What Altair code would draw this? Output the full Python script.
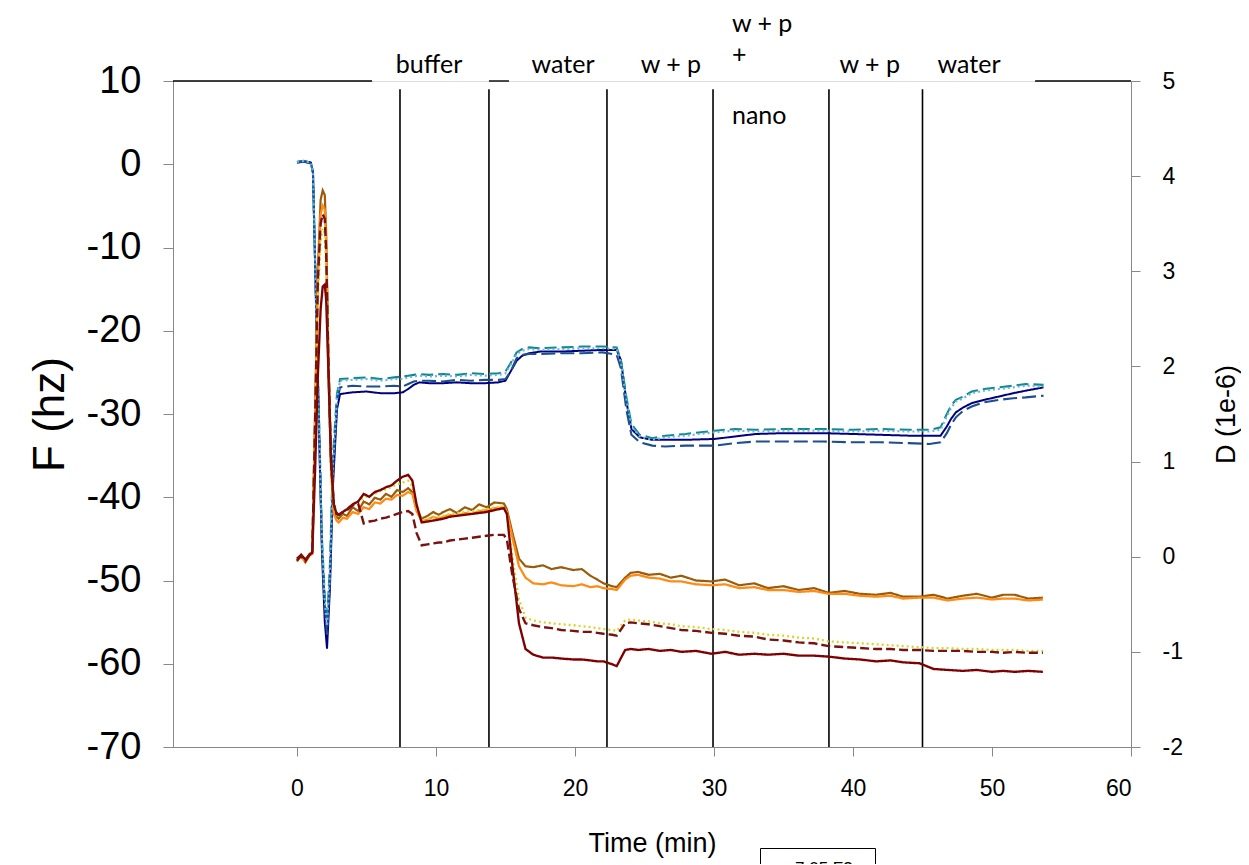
import altair as alt
import pandas as pd

# ---------------- data ----------------
# Frequency group (left axis, F in Hz)
TF = [0, 0.5, 1.0, 1.15, 1.44, 1.8, 2.0, 2.16, 2.37, 2.59, 2.88, 3.1, 4.0, 5.0, 6.0, 7.0, 7.6, 8.0, 8.4, 8.8,
      9.5, 10.5, 11.5, 12.5, 13.5, 14.5, 15.0, 15.4, 15.8, 16.2, 16.7, 17.5, 19.0, 20.5, 22.0, 23.0, 23.3, 23.7,
      24.06, 24.66, 25.56, 26.5, 27.95, 30.04, 31.5, 33.02, 35.0, 37.8, 40.0, 42.0, 44.0, 45.5, 46.3, 46.75,
      47.05, 47.4, 47.94, 48.54, 49.44, 50.5, 51.53, 52.42, 53.71]
F_NAVY = [0.3, 0.4, 0.2, -1, -22, -46.8, -55, -58.2, -50.9, -38.5, -29.4, -27.6, -27.4, -27.3, -27.5, -27.5,
          -27.4, -27.0, -26.5, -26.2, -26.3, -26.3, -26.2, -26.3, -26.3, -26.2, -26.0, -24.8, -23.6, -23.0,
          -22.7, -22.5, -22.5, -22.4, -22.3, -22.3, -23.5, -28.5, -31.8, -32.8, -33.1, -33.1, -33.1, -33.0,
          -32.7, -32.4, -32.3, -32.3, -32.4, -32.5, -32.6, -32.6, -32.6, -31.5, -30.6, -29.8, -29.2, -28.7,
          -28.3, -27.9, -27.5, -27.2, -26.8]
F_TEAL = [0.2, 0.4, 0.1, -1, -21, -45, -52, -55.0, -48, -35, -27.5, -25.8, -25.7, -25.6, -25.8, -25.6, -25.5,
          -25.4, -25.3, -25.2, -25.3, -25.2, -25.3, -25.1, -25.2, -25.1, -24.9, -23.8, -22.6, -22.2, -22.0,
          -22.1, -22.0, -21.9, -21.9, -22.0, -23.5, -28.0, -31.2, -32.5, -32.9, -32.6, -32.4, -32.0, -31.8,
          -31.9, -31.8, -31.8, -31.9, -31.8, -31.9, -31.9, -31.6, -30.0, -29.0, -28.3, -27.9, -27.3, -27.0,
          -26.8, -26.6, -26.4, -26.5]
F_NAVY_DASH = [0.2, 0.3, 0.1, -1, -21, -46, -53, -56.5, -50, -37, -28.5, -26.8, -26.6, -26.7, -26.7, -26.6,
               -26.7, -26.4, -26.1, -26.0, -26.0, -26.1, -25.9, -26.0, -25.9, -25.9, -25.8, -24.8, -23.3, -22.9,
               -22.8, -22.8, -22.7, -22.7, -22.6, -22.9, -24.5, -29.5, -32.5, -33.4, -33.8, -33.9, -33.8, -33.8,
               -33.5, -33.3, -33.3, -33.3, -33.4, -33.4, -33.5, -33.6, -33.4, -32.3, -31.3, -30.4, -29.6, -29.1,
               -28.6, -28.3, -28.1, -28.0, -27.8]
F_LIGHT = [0.3, 0.4, 0.2, -1, -21.5, -45.5, -52.5, -55.5, -49, -36, -28, -26.0, -25.9, -25.8, -26.0, -25.8,
           -25.8, -25.6, -25.5, -25.4, -25.5, -25.4, -25.5, -25.3, -25.4, -25.3, -25.1, -24.0, -22.8, -22.4,
           -22.2, -22.3, -22.2, -22.1, -22.1, -22.2, -23.8, -28.3, -31.5, -32.7, -33.1, -32.8, -32.6, -32.2,
           -32.0, -32.1, -32.0, -32.0, -32.1, -32.0, -32.1, -32.1, -31.9, -30.3, -29.3, -28.5, -28.1, -27.5,
           -27.2, -27.0, -26.8, -26.6, -26.7]

# Dissipation group (right axis, D in 1e-6)
TD = [0, 0.3, 0.6, 0.9, 1.1, 1.3, 1.5, 1.7, 1.85, 2.0, 2.1, 2.25, 2.45, 2.65, 2.85, 3.0, 3.3, 3.6, 4.0, 4.4,
      4.8, 5.2, 5.6, 6.0, 6.4, 6.8, 7.2, 7.6, 8.0, 8.3, 8.6, 8.97, 9.4, 9.8, 10.2, 10.52, 11.0, 11.5, 12.08,
      12.6, 13.1, 13.64, 14.2, 14.88, 15.1, 15.5, 15.97, 16.44, 17.0, 17.69, 18.31, 19.0, 19.87, 20.49, 21.11,
      21.6, 22.05, 22.67, 23.0, 23.61, 24.0, 24.54, 25.3, 26.1, 26.9, 27.65, 28.7, 29.83, 30.8, 31.8, 32.9,
      33.88, 35.0, 36.1, 37.2, 38.24, 39.4, 40.5, 41.66, 42.7, 43.6, 44.78, 45.8, 46.8, 47.9, 48.9, 50.0,
      50.8, 51.63, 52.6, 53.66]
D_BROWN = [-0.05, 0.02, -0.04, 0.03, 0.05, 1.5, 3.0, 3.75, 3.85, 3.8, 3.4, 2.2, 1.0, 0.5, 0.42, 0.40, 0.45,
           0.43, 0.52, 0.48, 0.58, 0.55, 0.62, 0.60, 0.66, 0.63, 0.70, 0.68, 0.72, 0.68, 0.50, 0.40, 0.43, 0.47,
           0.44, 0.47, 0.50, 0.46, 0.52, 0.49, 0.55, 0.52, 0.57, 0.56, 0.50, 0.25, -0.02, -0.10, -0.11, -0.09,
           -0.13, -0.11, -0.14, -0.13, -0.20, -0.24, -0.28, -0.31, -0.32, -0.22, -0.17, -0.16, -0.19, -0.18,
           -0.22, -0.20, -0.25, -0.26, -0.24, -0.30, -0.28, -0.33, -0.31, -0.35, -0.33, -0.38, -0.36, -0.39,
           -0.40, -0.38, -0.42, -0.42, -0.40, -0.44, -0.41, -0.39, -0.43, -0.40, -0.40, -0.44, -0.43]
D_ORANGE = [-0.03, 0.00, -0.06, 0.01, 0.03, 1.4, 2.9, 3.6, 3.69, 3.65, 3.3, 2.1, 0.9, 0.45, 0.38, 0.36, 0.41,
            0.40, 0.47, 0.45, 0.52, 0.50, 0.57, 0.56, 0.61, 0.60, 0.65, 0.64, 0.68, 0.66, 0.48, 0.37, 0.39, 0.42,
            0.40, 0.42, 0.44, 0.43, 0.46, 0.45, 0.48, 0.49, 0.51, 0.52, 0.47, 0.20, -0.10, -0.22, -0.28, -0.29,
            -0.27, -0.30, -0.31, -0.29, -0.32, -0.31, -0.33, -0.34, -0.35, -0.24, -0.20, -0.19, -0.22, -0.23,
            -0.26, -0.26, -0.29, -0.30, -0.29, -0.33, -0.32, -0.35, -0.35, -0.37, -0.36, -0.39, -0.39, -0.41,
            -0.42, -0.41, -0.44, -0.43, -0.43, -0.46, -0.44, -0.43, -0.45, -0.44, -0.44, -0.46, -0.45]
D_DARKRED = [-0.02, 0.02, -0.03, 0.02, 0.04, 0.9, 1.9, 2.6, 2.84, 2.86, 2.7, 2.0, 1.0, 0.55, 0.45, 0.44, 0.47,
             0.50, 0.55, 0.58, 0.66, 0.63, 0.68, 0.70, 0.73, 0.75, 0.80, 0.84, 0.86, 0.80, 0.55, 0.36, 0.37, 0.38,
             0.39, 0.40, 0.42, 0.43, 0.44, 0.45, 0.46, 0.47, 0.49, 0.51, 0.45, -0.10, -0.70, -0.97, -1.03, -1.06,
             -1.06, -1.07, -1.08, -1.08, -1.09, -1.10, -1.10, -1.13, -1.15, -0.98, -0.97, -0.98, -0.97, -0.99,
             -0.98, -1.00, -0.99, -1.02, -1.00, -1.03, -1.02, -1.03, -1.02, -1.04, -1.04, -1.05, -1.07, -1.08,
             -1.10, -1.09, -1.11, -1.12, -1.18, -1.19, -1.20, -1.19, -1.21, -1.20, -1.21, -1.20, -1.21]
D_DARKRED_DASH = [-0.04, 0.01, -0.05, 0.02, 0.04, 1.4, 2.9, 3.5, 3.6, 3.55, 3.2, 2.1, 1.0, 0.55, 0.46, 0.44,
                  0.47, 0.49, 0.54, 0.56, 0.35, 0.37, 0.38, 0.40, 0.41, 0.43, 0.45, 0.47, 0.48, 0.45, 0.25, 0.12,
                  0.13, 0.14, 0.15, 0.15, 0.17, 0.18, 0.19, 0.20, 0.21, 0.22, 0.23, 0.23, 0.18, -0.20, -0.55,
                  -0.70, -0.72, -0.74, -0.75, -0.77, -0.78, -0.79, -0.79, -0.80, -0.81, -0.82, -0.83, -0.70,
                  -0.69, -0.70, -0.71, -0.73, -0.75, -0.77, -0.78, -0.80, -0.81, -0.83, -0.84, -0.87, -0.88,
                  -0.90, -0.91, -0.94, -0.95, -0.96, -0.97, -0.97, -0.98, -0.98, -0.99, -0.99, -0.99, -1.00,
                  -1.00, -1.01, -1.00, -1.01, -1.01]
D_YELLOW = [-0.03, 0.01, -0.04, 0.02, 0.04, 1.3, 2.7, 3.3, 3.45, 3.4, 3.0, 2.0, 0.95, 0.5, 0.44, 0.43, 0.47,
            0.50, 0.55, 0.58, 0.62, 0.64, 0.66, 0.69, 0.71, 0.73, 0.76, 0.78, 0.80, 0.74, 0.52, 0.38, 0.40, 0.41,
            0.42, 0.43, 0.45, 0.46, 0.47, 0.48, 0.49, 0.50, 0.52, 0.53, 0.46, 0.0, -0.45, -0.64, -0.67, -0.69,
            -0.70, -0.71, -0.72, -0.73, -0.74, -0.75, -0.76, -0.77, -0.78, -0.67, -0.66, -0.67, -0.68, -0.70,
            -0.71, -0.73, -0.74, -0.76, -0.77, -0.79, -0.80, -0.82, -0.83, -0.85, -0.86, -0.89, -0.90, -0.91,
            -0.92, -0.93, -0.94, -0.95, -0.96, -0.96, -0.97, -0.97, -0.98, -0.98, -0.98, -0.99, -0.99]

F_NAMES = ["7.05 F3", "7.05 F5", "7.05 F7", "7.05 F9"]
D_NAMES = ["7.05 D3", "7.05 D5", "7.05 D7", "7.05 D9", "7.05 D11"]
F_SERIES = [F_NAVY, F_TEAL, F_NAVY_DASH, F_LIGHT]
D_SERIES = [D_BROWN, D_ORANGE, D_YELLOW, D_DARKRED, D_DARKRED_DASH]

COLORS = ["#000080", "#0f8b8d", "#1d4f8c", "#6fb3e6", "#9b5b0b", "#ff8a14", "#d6d62a", "#800000", "#7b1010"]
DASHES = [[1, 0], [12, 5], [14, 5], [2, 3], [1, 0], [1, 0], [2, 3], [1, 0], [9, 4]]
WIDTHS = [2.0, 2.4, 2.4, 1.5, 2.2, 2.0, 1.5, 2.0, 2.2]

# event markers and annotations
RULE_T = [7.41, 13.81, 22.30, 29.93, 38.27, 45.0]
RULE_TOP = [9.0, 9.0, 9.0, 9.0, 9.0, 9.0]
RULE_BOT = [-70, -70, -70, -70, -70, -70]
BORDER_T1 = [-8.92, 13.81, 53.1]
BORDER_T2 = [5.4, 15.25, 60]
BORDER_F = [10, 10, 10]
CENTER_TXT = ["buffer", "water", "w + p", "w + p", "water"]
CENTER_T = [9.5, 19.14, 26.9, 41.2, 48.35]
CENTER_F = [11.9, 11.9, 11.9, 11.9, 11.9]
LEFT_TXT = ["w + p", "+", "nano"]
LEFT_T = [31.29, 31.29, 31.29]
LEFT_F = [16.9, 13.1, 5.8]

# ---------------- tables ----------------
rows_f = []
for name, vals in zip(F_NAMES, F_SERIES):
    for t, v in zip(TF, vals):
        rows_f.append({"t": t, "v": v, "s": name})
df_f = pd.DataFrame(rows_f)
rows_d = []
for name, vals in zip(D_NAMES, D_SERIES):
    for t, v in zip(TD, vals):
        rows_d.append({"t": t, "v": v, "s": name})
df_d = pd.DataFrame(rows_d)
df_rules = pd.DataFrame({"t": RULE_T, "v": RULE_TOP, "v2": RULE_BOT})
df_border = pd.DataFrame({"t": BORDER_T1, "t2": BORDER_T2, "v": BORDER_F})
df_ctext = pd.DataFrame({"t": CENTER_T, "v": CENTER_F, "txt": CENTER_TXT})
df_ltext = pd.DataFrame({"t": LEFT_T, "v": LEFT_F, "txt": LEFT_TXT})

ALL_NAMES = F_NAMES + D_NAMES
color_scale = alt.Scale(domain=ALL_NAMES, range=COLORS)
dash_scale = alt.Scale(domain=ALL_NAMES, range=DASHES)
width_scale = alt.Scale(domain=ALL_NAMES, range=WIDTHS)

AX_FONT = "Liberation Sans"
PLAIN_LABEL = "'' + datum.value"

x_enc = alt.X("t:Q", scale=alt.Scale(domain=[-8.92, 60], nice=False, zero=False),
              axis=alt.Axis(values=[0, 10, 20, 30, 40, 50, 60], title="Time (min)", grid=False,
                            labelFontSize=23, titleFontSize=27, tickSize=9, labelPadding=21,
                            titlePadding=30, labelFont=AX_FONT, titleFont=AX_FONT,
                            titleFontWeight="normal", labelExpr=PLAIN_LABEL))

y_left = alt.Y("v:Q", scale=alt.Scale(domain=[-70, 10], nice=False, zero=False),
               axis=alt.Axis(values=list(range(-70, 11, 10)), title="F (hz)", orient="left", grid=False,
                             labelFontSize=38, titleFontSize=44, tickSize=10, labelPadding=22,
                             titlePadding=14, labelFont=AX_FONT, titleFont=AX_FONT,
                             titleFontWeight="normal", labelExpr=PLAIN_LABEL))

y_right = alt.Y("v:Q", scale=alt.Scale(domain=[-2, 5], nice=False, zero=False),
                axis=alt.Axis(values=list(range(-2, 6)), title="D (1e-6)", orient="right", grid=False,
                              labelFontSize=23, titleFontSize=27, tickSize=9, labelPadding=22,
                              titlePadding=31, titleAngle=270, titleBaseline="top",
                              labelFont=AX_FONT, titleFont=AX_FONT,
                              titleFontWeight="normal", labelExpr=PLAIN_LABEL))

legend = alt.Legend(orient="none", legendX=587, legendY=767, direction="vertical", columns=1,
                    title=None, strokeColor="black", padding=12, labelFontSize=17, labelFont=AX_FONT,
                    symbolType="stroke", symbolSize=250, labelLimit=300)

f_lines = alt.Chart(df_f).mark_line(clip=True).encode(
    x=x_enc, y=y_left,
    color=alt.Color("s:N", scale=color_scale, legend=legend, sort=ALL_NAMES),
    strokeDash=alt.StrokeDash("s:N", scale=dash_scale, legend=None),
    strokeWidth=alt.StrokeWidth("s:N", scale=width_scale, legend=None),
    order=alt.Order("t:Q"),
)

rules = alt.Chart(df_rules).mark_rule(color="black", strokeWidth=1.6).encode(
    x=x_enc, y=y_left, y2="v2:Q")

border = alt.Chart(df_border).mark_rule(color="black", strokeWidth=1.4).encode(
    x=x_enc, x2="t2:Q", y=y_left)

ctext = alt.Chart(df_ctext).mark_text(font="Lato", fontSize=25, align="center", baseline="middle",
                                      color="black").encode(x=x_enc, y=y_left, text="txt:N")
ltext = alt.Chart(df_ltext).mark_text(font="Lato", fontSize=25, align="left", baseline="middle",
                                      color="black").encode(x=x_enc, y=y_left, text="txt:N")

d_lines = alt.Chart(df_d).mark_line(clip=True).encode(
    x=x_enc, y=y_right,
    color=alt.Color("s:N", scale=color_scale, legend=legend, sort=ALL_NAMES),
    strokeDash=alt.StrokeDash("s:N", scale=dash_scale, legend=None),
    strokeWidth=alt.StrokeWidth("s:N", scale=width_scale, legend=None),
    order=alt.Order("t:Q"),
)

left = alt.layer(rules, border, f_lines, ctext, ltext)
chart = alt.layer(left, d_lines).resolve_scale(y="independent").properties(
    width=958, height=666,
    autosize=alt.AutoSizeParams(type="none"),
    padding={"left": 165, "top": 73, "right": 110, "bottom": 117},
).configure_view(stroke=None).configure_axis(
    domainColor="black", tickColor="black", labelColor="black", titleColor="black",
    domainWidth=1.4, tickWidth=1.4, titleFontWeight="normal",
).configure(background="white")

chart.save("out.html", embed_options={"renderer": "svg", "actions": False})
